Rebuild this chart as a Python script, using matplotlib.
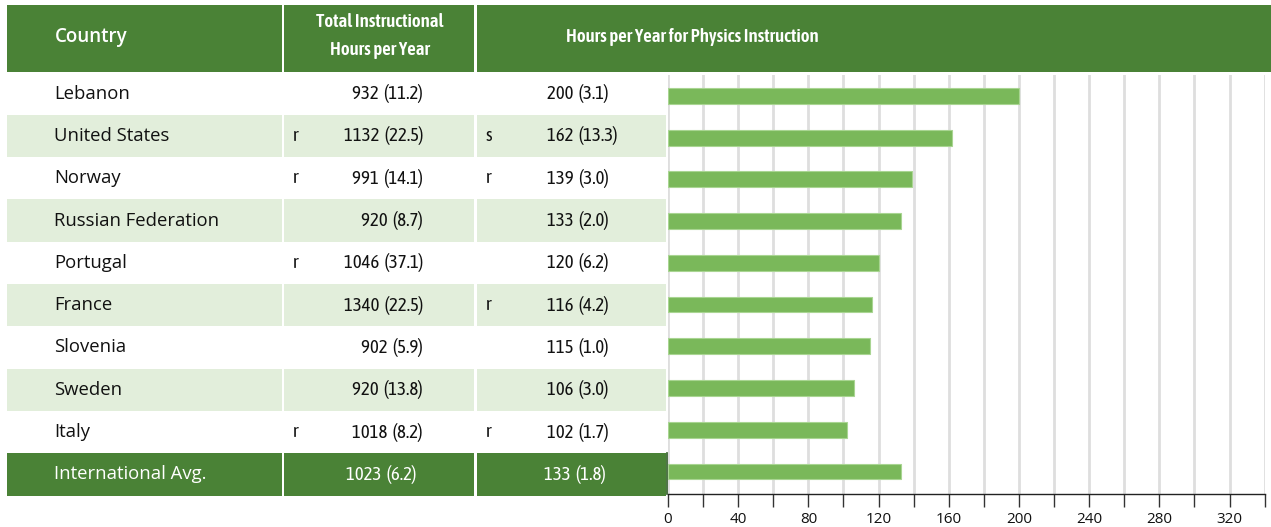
import matplotlib.pyplot as plt
from matplotlib.patches import Rectangle

# data
countries = ["Lebanon", "United States", "Norway", "Russian Federation", "Portugal",
             "France", "Slovenia", "Sweden", "Italy", "International Avg."]
total_flag = ["", "r", "r", "", "r", "", "", "", "r", ""]
total_hours = [932, 1132, 991, 920, 1046, 1340, 902, 920, 1018, 1023]
total_se = [11.2, 22.5, 14.1, 8.7, 37.1, 22.5, 5.9, 13.8, 8.2, 6.2]
phys_flag = ["", "s", "r", "", "", "r", "", "", "r", ""]
phys_hours = [200, 162, 139, 133, 120, 116, 115, 106, 102, 133]
phys_se = [3.1, 13.3, 3.0, 2.0, 6.2, 4.2, 1.0, 3.0, 1.7, 1.8]
x_ticks = list(range(0, 341, 20))
x_labels = [str(t) if t % 40 == 0 else "" for t in x_ticks]

W, H = 1271, 527
DARK = "#4a8236"
LIGHT = "#e2eedb"
BAR = "#7ab85a"
NARROW = ["Asap Condensed", "Barlow Condensed", "DejaVu Sans"]
BODY = ["Open Sans", "DejaVu Sans"]

fig = plt.figure(figsize=(W / 100, H / 100), dpi=100)
bg = fig.add_axes([0, 0, 1, 1])
bg.set_xlim(0, W)
bg.set_ylim(H, 0)
bg.axis("off")

# column edges in pixels
cols = [(7, 282), (284, 474), (477, 666)]
row_top, row_h = 72.5, 42.3

# header band
bg.add_patch(Rectangle((7, 5), 275, 67, color=DARK, lw=0))
bg.add_patch(Rectangle((284, 5), 190, 67, color=DARK, lw=0))
bg.add_patch(Rectangle((477, 5), W - 477, 67, color=DARK, lw=0))
bg.text(55, 37, "Country", color="white", fontsize=13.5, fontweight="semibold",
        family=BODY, ha="left", va="center")
bg.text(380, 22, "Total Instructional", color="white", fontsize=13.5, fontweight="semibold",
        family=NARROW, ha="center", va="center")
bg.text(380, 50, "Hours per Year", color="white", fontsize=13.5, fontweight="semibold",
        family=NARROW, ha="center", va="center")
bg.text(566, 37, "Hours per Year for Physics Instruction", color="white", fontsize=13.5,
        fontweight="semibold", family=NARROW, ha="left", va="center")

n = len(countries)
for i in range(n):
    y0 = row_top + row_h * i
    yc = y0 + row_h / 2
    last = i == n - 1
    fill = DARK if last else (LIGHT if i % 2 == 1 else None)
    if fill:
        for a, b in cols:
            bg.add_patch(Rectangle((a, y0), b - a, row_h, color=fill, lw=0))
    tc = "white" if last else "#111111"
    bg.text(54, yc, countries[i], color=tc, fontsize=13.3, family=BODY,
            ha="left", va="center")
    tot = f"{total_hours[i]}  ({total_se[i]:.1f})"
    phy = f"{phys_hours[i]}  ({phys_se[i]:.1f})"
    if last:
        bg.text(381, yc, tot, color=tc, fontsize=13.5, family=NARROW, ha="center", va="center")
        bg.text(575, yc, phy, color=tc, fontsize=13.5, family=NARROW, ha="center", va="center")
    else:
        bg.text(423, yc, tot, color=tc, fontsize=13.5, family=NARROW, ha="right", va="center")
        bg.text(547, yc, phy, color=tc, fontsize=13.5, family=NARROW, ha="left", va="center")
    if total_flag[i]:
        bg.text(296, yc, total_flag[i], color=tc, fontsize=13.5, family=NARROW,
                ha="center", va="center")
    if phys_flag[i]:
        bg.text(489, yc, phys_flag[i], color=tc, fontsize=13.5, family=NARROW,
                ha="center", va="center")

# bar chart area
left, right, top, bottom = 668, 668 + 340 * 1.755, 75, 494
ax = fig.add_axes([left / W, 1 - bottom / H, (right - left) / W, (bottom - top) / H])
ax.patch.set_visible(False)
ypos = list(range(n))
ax.barh(ypos, phys_hours, height=0.38, color=BAR, edgecolor="#a9d592", lw=0.8, zorder=3)
ax.set_xlim(0, 340)
ax.set_ylim(n - 0.46, -0.5)
ax.set_xticks(x_ticks)
ax.set_xticklabels(x_labels, fontsize=11, family=BODY, color="#111111")
ax.tick_params(axis="x", direction="out", length=9, width=1, color="#333333", pad=4)
ax.set_yticks([])
ax.grid(axis="x", color="#dedede", lw=2, zorder=0)
for s in ["top", "right", "left"]:
    ax.spines[s].set_visible(False)
ax.spines["bottom"].set_color("#222222")
ax.spines["bottom"].set_linewidth(1)

# dark marker at the zero line in the average row
bg.plot([667, 667], [row_top + row_h * 9, bottom], color="#2e5a22", lw=1.2)

fig.savefig("out.png", dpi=100)
